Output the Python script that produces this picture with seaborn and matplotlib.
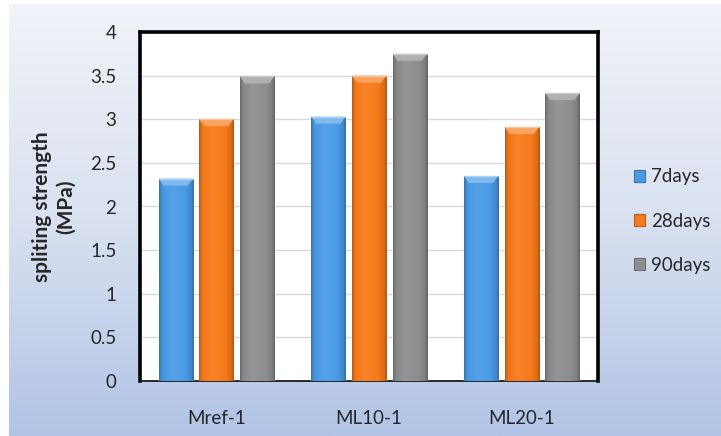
import numpy as np
import pandas as pd
import matplotlib
matplotlib.use("Agg")
import matplotlib.pyplot as plt
import seaborn as sns
from matplotlib.colors import to_rgb, LinearSegmentedColormap
from matplotlib.patches import Polygon, Patch

# Splitting tensile strength (MPa) by mix and curing age
mixes = ["Mref-1", "ML10-1", "ML20-1"]
ages = ["7days", "28days", "90days"]
strength_7d = [2.32, 3.03, 2.35]
strength_28d = [3.00, 3.50, 2.91]
strength_90d = [3.49, 3.75, 3.30]
y_ticks = [0, 0.5, 1, 1.5, 2, 2.5, 3, 3.5, 4]
y_tick_labels = ["0", "0.5", "1", "1.5", "2", "2.5", "3", "3.5", "4"]

df = pd.DataFrame({
    "mix": mixes * 3,
    "age": np.repeat(ages, len(mixes)),
    "strength": strength_7d + strength_28d + strength_90d,
})

sns.set_theme(style="white")
plt.rcParams["font.family"] = ["Lato", "DejaVu Sans"]

W, H = 721, 436
fig = plt.figure(figsize=(W / 100, H / 100), dpi=100)
fig.patch.set_facecolor("white")

# soft vertical gradient panel behind the chart
bg = fig.add_axes([9 / W, 0, 1 - 9 / W, 1 - 4 / H], zorder=-10)
bg_cmap = LinearSegmentedColormap.from_list("panel", ["#f1f3f8", "#d9e1f0", "#b1c4e5"])
bg.imshow(np.linspace(0, 1, 256)[:, None], aspect="auto", cmap=bg_cmap,
          extent=[0, 1, 0, 1], origin="upper")
bg.set_axis_off()

ax = fig.add_axes([140 / W, 1 - 381 / H, 458 / W, (381 - 32) / H])
ax.set_facecolor("white")

palette = {"7days": "#4a9be6", "28days": "#f67b1b", "90days": "#8e8e8e"}
sns.barplot(data=df, x="mix", y="strength", hue="age", hue_order=ages,
            order=mixes, palette=palette, width=0.8, gap=0.16,
            saturation=1, errorbar=None, ax=ax, legend=False, zorder=3)

ax.set_ylim(0, 4)
ax.set_xlim(-0.5, 2.5)
ax.set_yticks(y_ticks)
ax.set_yticklabels(y_tick_labels)
ax.yaxis.grid(True, color="#d9d9d9", linewidth=1)
ax.set_axisbelow(True)
ax.tick_params(axis="y", length=0, pad=17, labelsize=13.5, labelcolor="#262626")
ax.tick_params(axis="x", length=0, pad=21, labelsize=13.5, labelcolor="#262626")
ax.set_xlabel("")
ax.set_ylabel("spliting strength\n(MPa)", fontsize=15, fontweight="bold",
              color="#262626", linespacing=1.25)
ax.yaxis.set_label_coords(-0.14, 0.5)

for side in ("left", "top", "right"):
    ax.spines[side].set_color("black")
    ax.spines[side].set_linewidth(2.6)
ax.spines["bottom"].set_color("#1a1a1a")
ax.spines["bottom"].set_linewidth(1.3)


def shade(rgb, f):
    rgb = np.array(rgb)
    if f >= 0:
        return rgb + (1 - rgb) * f
    return rgb * (1 + f)


# bevelled shading on each bar
px_x = 3 / 458  # axis-units per pixel (x spans 3 categories)
px_y = 4 / 349
for bar in list(ax.patches):
    x0, y0 = bar.get_x(), bar.get_y()
    w, h = bar.get_width(), bar.get_height()
    if h <= 0:
        continue
    base = to_rgb(bar.get_facecolor())
    t = np.linspace(0, 1, 64)
    profile = np.interp(t, [0, 0.08, 0.35, 0.75, 0.93, 1.0],
                        [-0.25, -0.05, 0.06, 0.0, -0.12, -0.3])
    img = np.array([shade(base, f) for f in profile])[None, :, :]
    im = ax.imshow(img, extent=[x0, x0 + w, y0, y0 + h], aspect="auto",
                   zorder=3.5, interpolation="bilinear")
    im.set_clip_path(bar)
    d = 5 * px_x
    hb = 7 * px_y
    top = y0 + h
    bevel = Polygon([[x0, top], [x0 + w, top], [x0 + w - d, top - hb],
                     [x0 + d, top - hb]], closed=True,
                    facecolor=shade(base, 0.3), edgecolor="none", zorder=4)
    ax.add_patch(bevel)
    ax.add_patch(Polygon([[x0, top], [x0 + w, top]], closed=False,
                         edgecolor=shade(base, 0.55), linewidth=1.0,
                         fill=False, zorder=4.1))
ax.set_xlim(-0.5, 2.5)
ax.set_ylim(0, 4)

handles = [Patch(facecolor=palette[a], edgecolor=shade(to_rgb(palette[a]), -0.25),
                 linewidth=0.8) for a in ages]
leg = fig.legend(handles, ages, loc="center left",
                 bbox_to_anchor=(617 / W, 1 - 221 / H), frameon=False,
                 handlelength=0.6, handleheight=0.6, handletextpad=0.3,
                 labelspacing=1.45, fontsize=13.5)
for txt in leg.get_texts():
    txt.set_color("#262626")

fig.savefig("out.png", dpi=100)
